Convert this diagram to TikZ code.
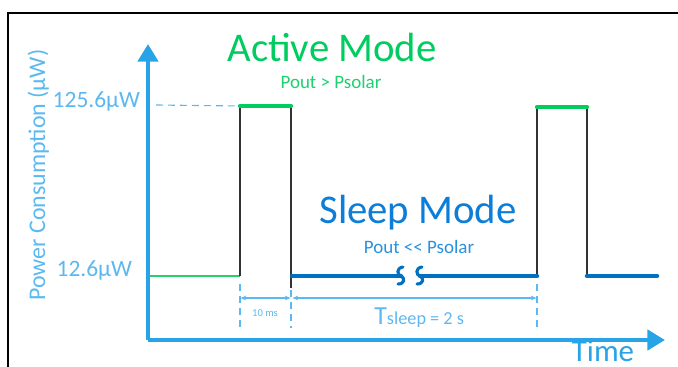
\documentclass[tikz,border=0pt]{standalone}
\usepackage{fontspec}
\setmainfont{Carlito}
\usetikzlibrary{arrows.meta, positioning}

\definecolor{axisblue}{RGB}{40,163,232}
\definecolor{labelblue}{RGB}{92,184,240}
\definecolor{sleepblue}{RGB}{0,112,192}
\definecolor{textblue}{RGB}{12,125,216}
\definecolor{condblue}{RGB}{42,145,222}
\definecolor{activegreen}{RGB}{0,204,96}
\definecolor{condgreen}{RGB}{30,208,112}
\definecolor{linegreen}{RGB}{40,205,110}

\begin{document}
\begin{tikzpicture}[
    x=0.025cm, y=-0.025cm, % one unit = one pixel of the sketch
    >=Latex, % Set default arrow tip style
    axis/.style={axisblue, line width=3.4pt, -{Triangle[width=0.5cm, length=0.44cm]}}, % Style for the axes
    pulse/.style={black!80, line width=1.2pt}, % Edges of the active pulses
    activetop/.style={activegreen, line width=3pt, line cap=round}, % Top of a pulse
    sleep/.style={sleepblue, line width=3.2pt, line cap=round}, % Sleep level
    guide/.style={labelblue, dashed, dash pattern=on 5pt off 3.5pt, line width=0.8pt}, % Dashed guides
    dim/.style={labelblue, line width=0.8pt, {Latex[length=4pt, width=3.5pt]}-{Latex[length=4pt, width=3.5pt]}}, % Dimension arrows
    ticklabel/.style={labelblue, font=\fontsize{16.7}{20}\selectfont, anchor=base east}
]

    \useasboundingbox (0,0) rectangle (678,367);

    % Frame
    \draw[line width=1pt] (8,367) -- (8,13) -- (678,13);

    % Axes
    \coordinate (O) at (148,340);
    \coordinate (ytip) at (148,44);
    \coordinate (xtip) at (665,340);
    \draw[axis] (O) -- (ytip);
    \draw[axis] (O) -- (xtip);

    \node[labelblue, font=\fontsize{17}{20}\selectfont, rotate=90, anchor=base] (ylab) at (45,175) {Power Consumption (µW)};
    \node[axisblue, font=\fontsize{22}{26}\selectfont, anchor=base, inner sep=0pt] (time) at (603,361) {Time};

    % Levels
    \node[ticklabel] (hi) at (145,108) {125.6µW};
    \node[ticklabel] (lo) at (137,277) {12.6µW};
    \coordinate (lostart) at (150,276);

    % Pulse corners
    \coordinate (p1a) at (240,276);
    \coordinate (p1b) at (240,106);
    \coordinate (p1c) at (291,106);
    \coordinate (p1d) at (291,288);
    \coordinate (p2a) at (537,276);
    \coordinate (p2b) at (537,107);
    \coordinate (p2c) at (587,107);
    \coordinate (p2d) at (587,276);
    \coordinate (tail) at (657,276);

    % Dashed level guide
    \draw[guide] (156,105) -- (p1b);

    % Idle level before first pulse
    \draw[linegreen, line width=1.2pt] (lostart) -- (p1a);

    % Pulses
    \draw[pulse] (p1a) -- (p1b);
    \draw[pulse] (p1c) -- (p1d);
    \draw[pulse] (p2a) -- (p2b);
    \draw[pulse] (p2c) -- (p2d);
    \draw[activetop] (p1b) -- (p1c);
    \draw[activetop] (p2b) -- (p2c);

    % Sleep level with a break
    \coordinate (s1) at (292,276);
    \coordinate (b1) at (401,276);
    \coordinate (b2) at (420,276);
    \draw[sleep] (s1) -- (b1);
    \draw[sleep] (b2) -- (p2a);
    \draw[sleep] (p2d) -- (tail);
    \draw[sleepblue, line width=2.2pt, line cap=round] (403,267) .. controls (396,268) and (397,275) .. (b1) .. controls (405,278) and (405,284) .. (398,284);
    \draw[sleepblue, line width=2.2pt, line cap=round] (422,267) .. controls (415,268) and (416,275) .. (b2) .. controls (424,278) and (424,284) .. (417,284);

    % Time guides and dimensions
    \draw[guide] (240,284) -- (240,330);
    \draw[guide] (291,290) -- (291,328);
    \draw[guide] (537,284) -- (537,330);
    \coordinate (d1) at (240,298);
    \coordinate (d2) at (291,298);
    \coordinate (d3) at (292,298);
    \coordinate (d4) at (537,298);
    \draw[dim] (d1) -- (d2);
    \draw[dim] (d3) -- (d4);
    \node[labelblue, font=\fontsize{7.5}{9}\selectfont, anchor=base] (active time) at (265,316) {10 ms};
    \node[labelblue, anchor=base west, inner sep=0pt] (sleep time) at (374,324) {\fontsize{18.5}{22}\selectfont T\fontsize{13}{16}\selectfont sleep = 2 s};

    % Mode labels
    \node[activegreen, font=\fontsize{29}{34}\selectfont, anchor=base] (active) at (332,62) {Active Mode};
    \node[condgreen, font=\fontsize{13.5}{16}\selectfont, anchor=base] (active cond) at (331,89) {Pout > Psolar};
    \node[textblue, font=\fontsize{29}{34}\selectfont, anchor=base] (sleepmode) at (418,224) {Sleep Mode};
    \node[condblue, font=\fontsize{13.5}{16}\selectfont, anchor=base] (sleep cond) at (419,254) {Pout <{}< Psolar};

\end{tikzpicture}
\end{document}
